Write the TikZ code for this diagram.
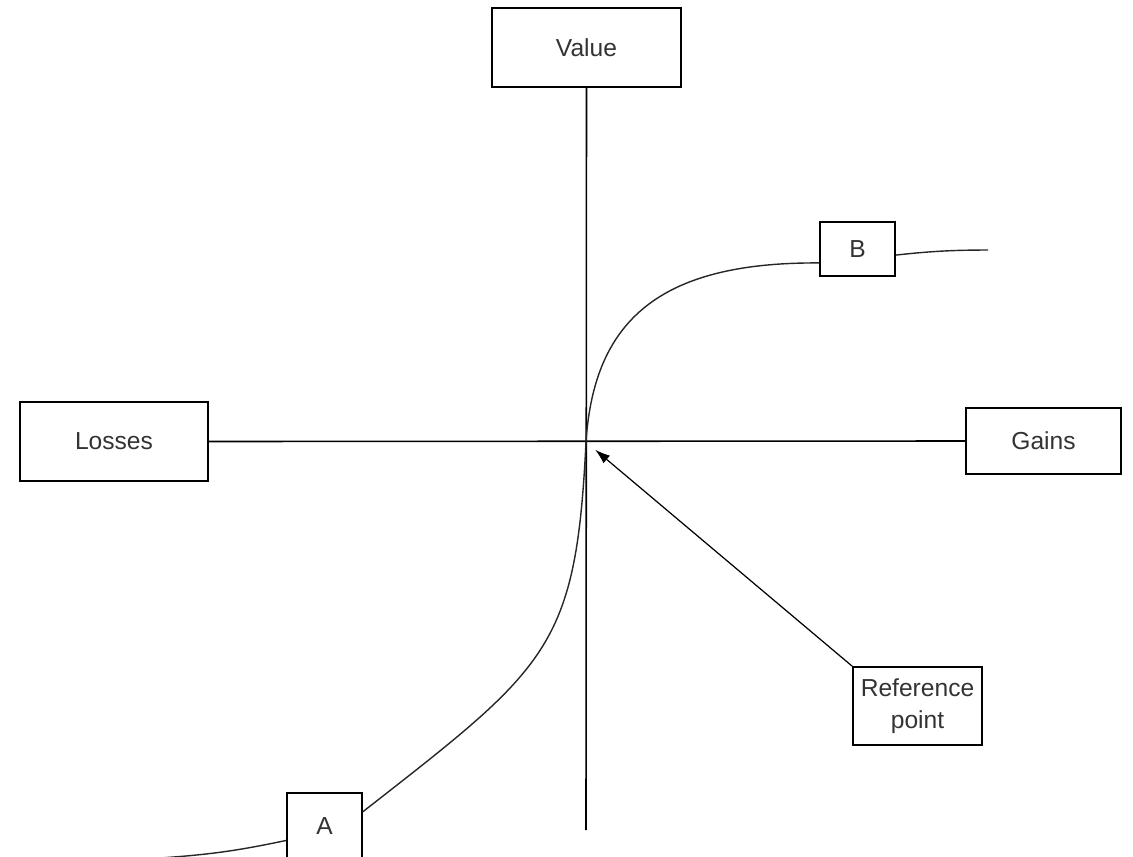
\documentclass[tikz,border=0pt]{standalone}
\usepackage{fontspec}
\setmainfont{Liberation Sans}
\usepackage{tikz}
\usetikzlibrary{arrows.meta}

\begin{document}
\begin{tikzpicture}[x=0.02cm,y=-0.02cm,
  box/.style={draw,line width=0.9pt,inner sep=0pt,text=black!80,align=center,
    font=\fontsize{14}{18}\selectfont}]
 \useasboundingbox (0,0) rectangle (1133,856);

 \node [box,minimum width=3.78cm,minimum height=1.58cm] (value) at (586.5,47.5) {Value};
 \node [box,minimum width=3.76cm,minimum height=1.58cm] (losses) at (114,441.5) {Losses};
 \node [box,minimum width=3.1cm,minimum height=1.32cm] (gains) at (1043.5,441) {Gains};
 \node [box,minimum width=1.5cm,minimum height=1.08cm] (B) at (857.5,249) {B};
 \node [box,minimum width=1.5cm,minimum height=1.34cm] (A) at (324.5,826.5) {A};
 \node [box,minimum width=2.58cm,minimum height=1.56cm] (refpt) at (917.5,706) {Reference\\point};

 \coordinate (o) at (586,442);
 \coordinate (bottom) at (586,830);
 \coordinate (tailA) at (160,858);
 \coordinate (tailB) at (988,250);

 % axes
 \draw [line width=0.9pt] (value.south) -- (bottom);
 \draw [line width=0.9pt] (losses.east) -- (gains.west);

 % value curve
 \draw [line width=0.8pt,black!85] (tailA) to [bend right=4] (A.200);
 \draw [line width=0.8pt,black!85] (A.21) .. controls (548,667) and (576,649) .. (o)
   .. controls (594,320) and (660,262) .. (B.200);
 \draw [line width=0.8pt,black!85] (B.-9) to [bend left=3] (tailB);

 \draw [-{Latex[length=0.3cm,width=0.2cm]},line width=0.7pt,shorten >=0.24cm] (refpt.north west) -- (o);
\end{tikzpicture}
\end{document}
